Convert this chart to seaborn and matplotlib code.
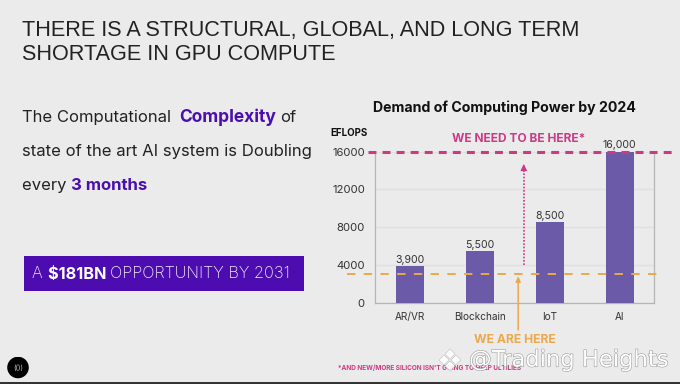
import matplotlib
matplotlib.use("Agg")
import matplotlib.pyplot as plt
import seaborn as sns
import pandas as pd
from matplotlib.patches import Rectangle, Circle, Polygon
import matplotlib.patheffects as pe

W, H = 680, 384
BG = "#ebebeb"
PURPLE = "#6b5aa8"
DEEP = "#4a0fae"
MAGENTA = "#cc3a87"
ORANGE = "#eaa94e"
DARK = "#222222"

categories = ["AR/VR", "Blockchain", "IoT", "AI"]
values = [3900, 5500, 8500, 16000]
value_labels = ["3,900", "5,500", "8,500", "16,000"]
y_ticks = [0, 4000, 8000, 12000, 16000]
need_level = 16000
here_level = 3000

sns.set_theme(style="whitegrid")
plt.rcParams["font.family"] = ["Inter", "DejaVu Sans"]
fig = plt.figure(figsize=(W / 100, H / 100), dpi=100, facecolor=BG)

def fx(px): return px / W
def fy(py): return 1 - py / H

# --- chart
ax = fig.add_axes([fx(374.7), fy(302.7), (654 - 374.7) / W, (302.7 - 151.7) / H], facecolor=BG)
df = pd.DataFrame({"category": categories, "value": values})
sns.barplot(data=df, x="category", y="value", color=PURPLE, saturation=1, width=0.405,
            edgecolor="none", linewidth=0, ax=ax, zorder=3)
ax.set_xlim(-0.5, 3.49)
ax.set_ylim(0, 16000)
ax.set_xlabel("")
ax.set_ylabel("")
ax.set_yticks(y_ticks)
ax.set_yticklabels([str(v) for v in y_ticks])
ax.grid(False)
ax.grid(axis="y", color="#e0e0e0", lw=1)
ax.tick_params(axis="x", labelsize=7.2, labelcolor="#333333", pad=7, length=0)
ax.tick_params(axis="y", labelsize=8.2, labelcolor="#333333", pad=7, length=0)
for s in ["top", "right", "left", "bottom"]:
    ax.spines[s].set_visible(True)
    ax.spines[s].set_color("#b5b5b5")
    ax.spines[s].set_linewidth(0.9)
ax.spines["top"].set_visible(False)
for i, (v, lab) in enumerate(zip(values, value_labels)):
    ax.text(i, v + 130, lab, ha="center", va="bottom", fontsize=7.6, color="#333333", zorder=6)

tr = ax.get_yaxis_transform()
ax.plot([(368 - 374.7) / 279.3, (673 - 374.7) / 279.3], [need_level - 60] * 2, transform=tr, clip_on=False,
        color=MAGENTA, lw=2.2, dashes=(2.6, 2.0), zorder=5)
ax.plot([(347 - 374.7) / 279.3, (663 - 374.7) / 279.3], [here_level] * 2, transform=tr, clip_on=False,
        color=ORANGE, lw=1.4, dashes=(4.3, 4.3), zorder=5)
ax.plot([1.63, 1.63], [4000, 14000], color=MAGENTA, lw=1.2, dashes=(1, 1), zorder=5)
ax.annotate("", xy=(1.63, 14700), xytext=(1.63, 13900),
            arrowprops=dict(arrowstyle="-|>,head_width=0.16,head_length=0.32", color=MAGENTA, lw=0.8, shrinkA=0, shrinkB=0), zorder=5)
ax.annotate("", xy=(1.55, 2800), xytext=(1.55, -2900), annotation_clip=False,
            arrowprops=dict(arrowstyle="-|>,head_width=0.12,head_length=0.25", color=ORANGE, lw=1.1, shrinkA=0, shrinkB=0), zorder=5)

# --- text helpers
def T(px, py, s, **kw):
    kw.setdefault("va", "center")
    return fig.text(fx(px), fy(py), s, **kw)

renderer = fig.canvas.get_renderer()
def run(px, py, pieces, size):
    """Lay out differently styled pieces of one line next to each other."""
    x = px
    for s, weight, color in pieces:
        t = T(x, py, s, fontsize=size, fontweight=weight, color=color, va="baseline")
        x += t.get_window_extent(renderer).width
    return x

T(22, 30.5, "THERE IS A STRUCTURAL, GLOBAL, AND LONG TERM", fontsize=15.6, color=DARK, family="Liberation Sans")
T(22, 54, "SHORTAGE IN GPU COMPUTE", fontsize=15.6, color=DARK, family="Liberation Sans")

run(22, 122, [("The Computational", "normal", DARK)], 12)
run(179, 122, [("Complexity", "bold", DEEP)], 12.5)
run(280.5, 122, [("of", "normal", DARK)], 12)
run(22, 156, [("state of the art AI system is Doubling", "normal", DARK)], 12)
run(22, 190, [("every ", "normal", DARK), ("3 months", "bold", DEEP)], 12)

fig.add_artist(Rectangle((fx(24), fy(291)), 280 / W, 35 / H, transform=fig.transFigure, color="#4c0cb0", lw=0))
run(32.5, 278.5, [("A ", "light", "#f2ecfa"), ("$181BN ", "bold", "white"), ("OPPORTUNITY BY 2031", "light", "#f2ecfa")], 11.7)

T(504, 107.5, "Demand of Computing Power by 2024", fontsize=10.2, fontweight="bold", color="#111111", ha="center")
T(330, 133.5, "EFLOPS", fontsize=7, fontweight="bold", color="#111111")
T(519, 139.5, "WE NEED TO BE HERE*", fontsize=8.6, fontweight="bold", color=MAGENTA, ha="center")
T(514.7, 340, "WE ARE HERE", fontsize=8.75, fontweight="bold", color=ORANGE, ha="center")
T(338, 367.5, "*AND NEW/MORE SILICON ISN'T GOING TO HELP ULTILIES", fontsize=4.7, fontweight="bold", color=MAGENTA)

# --- badge, watermark, bottom edge
logo = fig.add_axes([fx(7), fy(378.5), 22 / W, 22 / H], facecolor="none")
logo.set_xlim(-1, 1); logo.set_ylim(-1, 1); logo.axis("off")
logo.add_patch(Circle((0, 0), 0.98, color="black", lw=0))
logo.text(0, 0, "(())", color="#cccccc", fontsize=5, ha="center", va="center")

for cx, cy, r in [(450, 354, 5), (444, 360, 5), (456, 360, 5), (450, 366, 5)]:
    pts = [(fx(cx - r), fy(cy)), (fx(cx), fy(cy - r)), (fx(cx + r), fy(cy)), (fx(cx), fy(cy + r))]
    fig.add_artist(Polygon(pts, closed=True, transform=fig.transFigure, fc="white", ec="#bbbbbb", lw=0.4, alpha=0.9, zorder=8))
T(469, 360, "@Trading Heights", fontsize=16.3, color="white", family="DejaVu Sans", zorder=9,
  path_effects=[pe.withStroke(linewidth=0.8, foreground="#9a9a9a")])

fig.add_artist(Rectangle((0, 0), 1, 2.5 / H, transform=fig.transFigure, color="#333333", lw=0))

fig.savefig("out.png", dpi=100, facecolor=BG)
